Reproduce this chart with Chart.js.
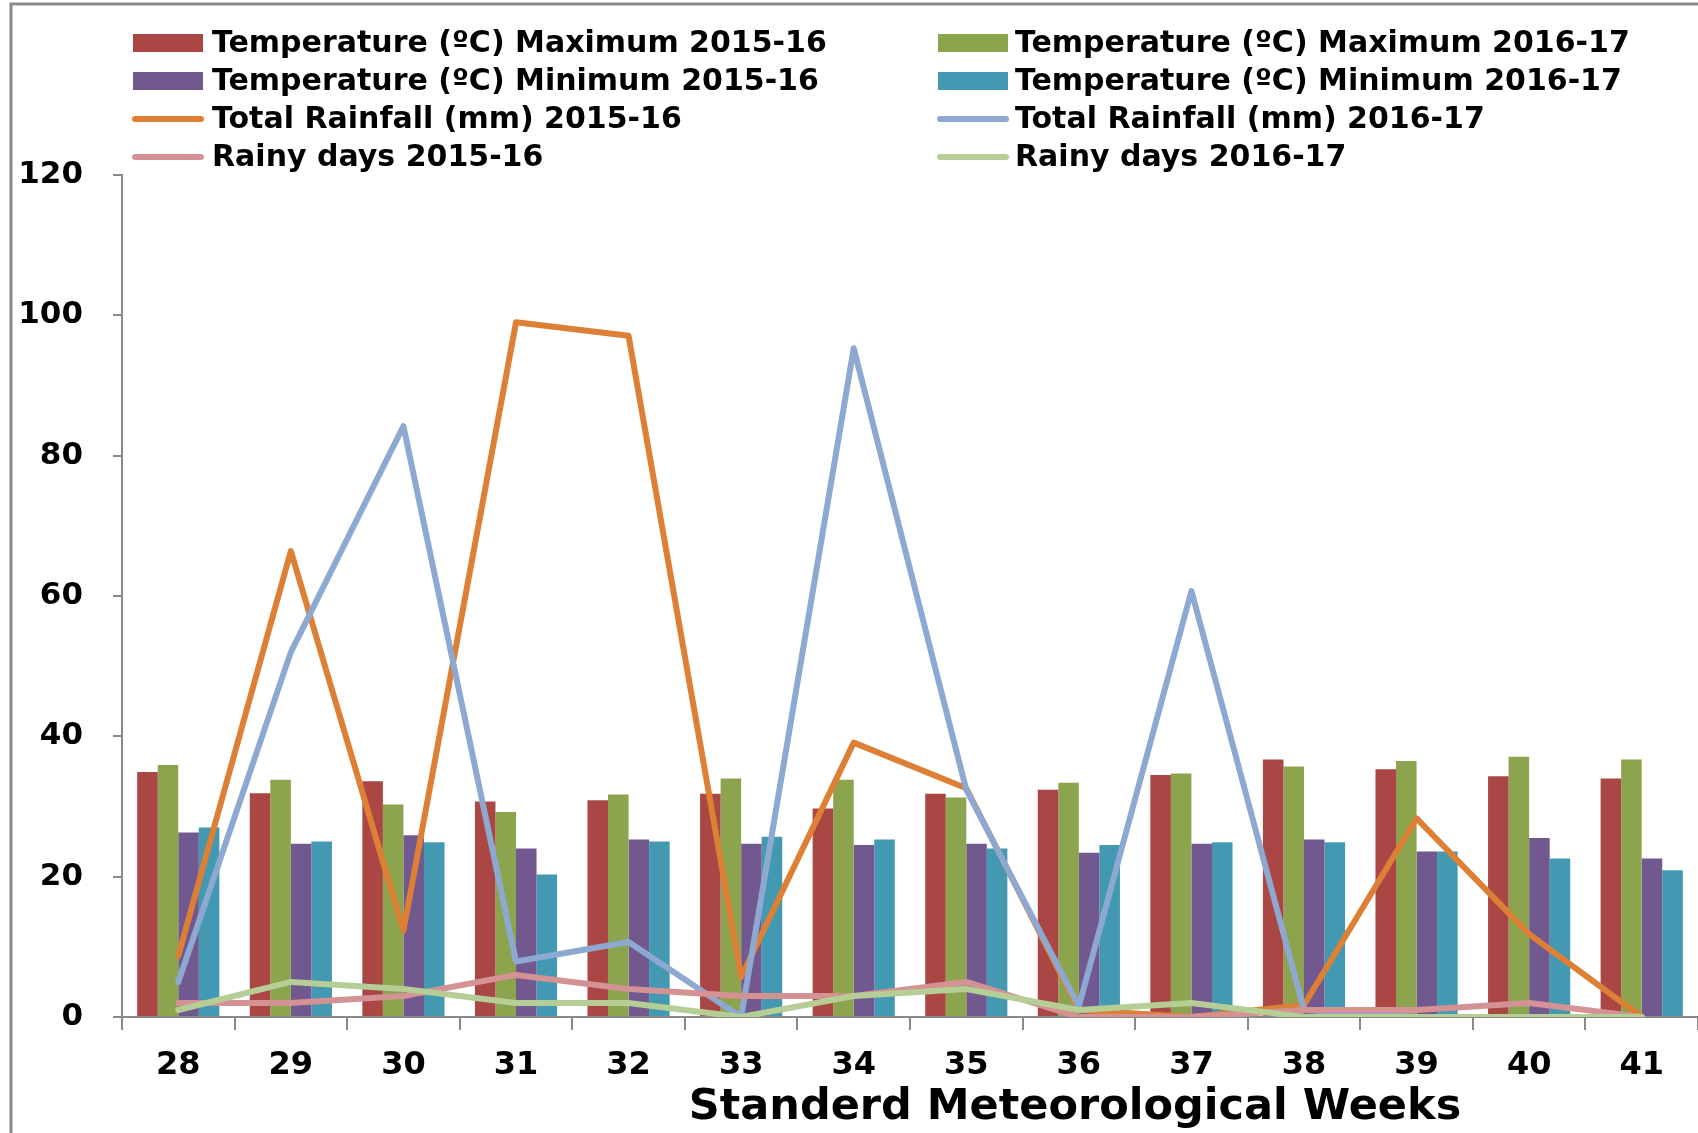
<!DOCTYPE html>
<html>
<head>
<meta charset="utf-8">
<script src="https://cdn.jsdelivr.net/npm/chart.js@4.4.1/dist/chart.umd.min.js"></script>
<style>
html,body{margin:0;padding:0;background:#fff;}
#wrap{width:1698px;height:1133px;position:relative;}
</style>
</head>
<body>
<div id="wrap"><canvas id="chart" width="1698" height="1133"></canvas></div>
<script>
let weeks = ["28","29","30","31","32","33","34","35","36","37","38","39","40","41"];

let maxTemp2015 = [34.9,31.9,33.6,30.7,30.9,31.8,29.7,31.8,32.4,34.5,36.7,35.3,34.3,34.0];
let maxTemp2016 = [35.9,33.8,30.3,29.2,31.7,34.0,33.8,31.3,33.4,34.7,35.7,36.5,37.1,36.7];
let minTemp2015 = [26.3,24.7,25.9,24.0,25.3,24.7,24.5,24.7,23.4,24.7,25.3,23.6,25.5,22.6];
let minTemp2016 = [27.0,25.0,24.9,20.3,25.0,25.7,25.3,24.0,24.5,24.9,24.9,23.6,22.6,20.9];

let rain2015 = [8.7,66.4,12.3,99.0,97.1,5.7,39.1,32.6,1,0,1.7,28.3,11.8,0];
let rain2016 = [5.0,52.0,84.2,7.9,10.7,0,95.3,32.4,1.5,60.7,1,0,0,0];

let rainyDays2015 = [2,2,3,6,4,3,3,5,0,0,1,1,2,0];
let rainyDays2016 = [1,5,4,2,2,0,3,4,1,2,0,0,0,0];

let yTicks = [0,20,40,60,80,100,120];
let xTitle = "Standerd Meteorological Weeks";

let FONT = '"DejaVu Sans", sans-serif';

function bar(label, data, color){
  return {type:'bar', label:label, data:data, backgroundColor:color, borderWidth:0, order:10,
    categoryPercentage:0.73, barPercentage:1.0};
}
function line(label, data, color, order){
  return {type:'line', label:label, data:data, borderColor:color, backgroundColor:color,
    borderWidth:6, pointRadius:0, tension:0, borderJoinStyle:'round', borderCapStyle:'round', order:order};
}

// legend, frame and axis title drawn on the canvas
let extras = {
  id:'extras',
  beforeDraw(chart){
    let ctx = chart.ctx;
    ctx.save();
    ctx.strokeStyle = '#8a8a8a';
    ctx.lineWidth = 3;
    ctx.beginPath();
    ctx.moveTo(11, 1133);
    ctx.lineTo(11, 4);
    ctx.lineTo(1698, 4);
    ctx.stroke();
    ctx.restore();
  },
  afterDraw(chart){
    let ctx = chart.ctx;
    ctx.save();
    let cols = [[133,212],[938,1015]];
    let rows = [43,81,119,157];
    chart.data.datasets.forEach((ds,i)=>{
      let c = cols[i%2], y = rows[Math.floor(i/2)];
      if(ds.type=='bar'){
        ctx.fillStyle = ds.backgroundColor;
        ctx.fillRect(c[0], y-9, 70, 18);
      } else {
        ctx.strokeStyle = ds.borderColor;
        ctx.lineWidth = 6;
        ctx.lineCap = 'round';
        ctx.beginPath();
        ctx.moveTo(c[0]+2, y);
        ctx.lineTo(c[0]+68, y);
        ctx.stroke();
      }
      ctx.fillStyle = '#000';
      ctx.font = 'bold 30px ' + FONT;
      ctx.textAlign = 'left';
      ctx.textBaseline = 'middle';
      ctx.fillText(ds.label, c[1], y+1);
    });
    ctx.font = 'bold 43px ' + FONT;
    ctx.textAlign = 'center';
    ctx.textBaseline = 'middle';
    ctx.fillText(xTitle, 1075, 1108);
    ctx.restore();
  }
};

new Chart(document.getElementById('chart'), {
  data:{
    labels:weeks,
    datasets:[
      bar("Temperature (ºC) Maximum 2015-16", maxTemp2015, '#AA4644'),
      bar("Temperature (ºC) Maximum 2016-17", maxTemp2016, '#8BA44D'),
      bar("Temperature (ºC) Minimum 2015-16", minTemp2015, '#71588F'),
      bar("Temperature (ºC) Minimum 2016-17", minTemp2016, '#4299B1'),
      line("Total Rainfall (mm) 2015-16", rain2015, '#DD8035', 4),
      line("Total Rainfall (mm) 2016-17", rain2016, '#8DA9D1', 3),
      line("Rainy days 2015-16", rainyDays2015, '#D49294', 2),
      line("Rainy days 2016-17", rainyDays2016, '#B4CE95', 1)
    ]
  },
  options:{
    responsive:false,
    animation:false,
    devicePixelRatio:1,
    layout:{padding:{top:175,right:0,bottom:0,left:0}},
    plugins:{legend:{display:false}, tooltip:{enabled:false}},
    scales:{
      x:{
        offset:true,
        grid:{display:true, offset:true, drawOnChartArea:false, color:'#8a8a8a', lineWidth:2, tickLength:13},
        border:{display:true, color:'#8a8a8a', width:2},
        ticks:{color:'#000', font:{family:FONT, weight:'bold', size:32}, padding:16, maxRotation:0, autoSkip:false},
        afterFit(s){ s.height = 116; }
      },
      y:{
        min:0, max:120,
        afterBuildTicks(s){ s.ticks = yTicks.map(v=>({value:v})); },
        grid:{display:true, drawOnChartArea:false, color:'#8a8a8a', lineWidth:2, tickLength:9},
        border:{display:true, color:'#8a8a8a', width:2},
        ticks:{color:'#000', font:{family:FONT, weight:'bold', size:31}, padding:30},
        afterFit(s){ s.width = 122; }
      }
    }
  },
  plugins:[extras]
});
</script>
</body>
</html>
